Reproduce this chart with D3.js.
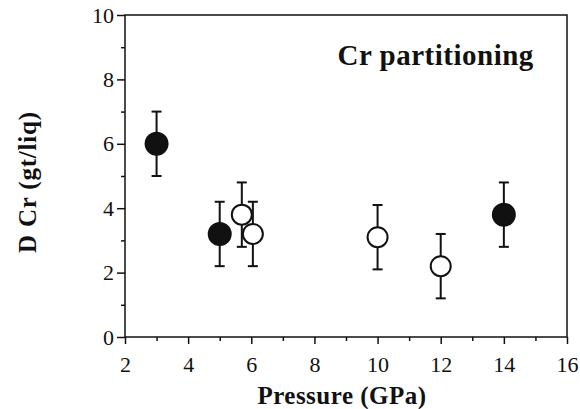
<!DOCTYPE html>
<html>
<head>
<meta charset="utf-8">
<script src="https://cdn.jsdelivr.net/npm/d3@7"></script>
<style>
  body { margin: 0; background: #fff; }
</style>
</head>
<body>
<div id="chart-area"></div>
<script>
// Cr partitioning data: pressure (GPa), D Cr, error bar half-width
const filledP = [3, 5, 14];
const filledD = [6.0, 3.2, 3.8];
const filledErr = [1.0, 1.0, 1.0];

const openP = [5.7, 6.05, 10, 12];
const openD = [3.8, 3.2, 3.1, 2.2];
const openErr = [1.0, 1.0, 1.0, 1.0];

const xTicks = [2, 4, 6, 8, 10, 12, 14, 16];
const yTicks = [0, 2, 4, 6, 8, 10];

const serif = '"Liberation Serif", "Times New Roman", monospace';

const wChart = 580, hChart = 409;
const margin = {top: 15, right: 13, bottom: 72, left: 125};
const wGraph = wChart - margin.left - margin.right;
const hGraph = hChart - margin.top - margin.bottom;

const svg = d3.select('#chart-area').append('svg')
    .attr('width', wChart)
    .attr('height', hChart);

const graph = svg.append('g')
    .attr('transform', `translate(${margin.left}, ${margin.top})`);

const xScale = d3.scaleLinear().domain([2, 16]).range([0, wGraph]);
const yScale = d3.scaleLinear().domain([0, 10]).range([hGraph, 0]);

// frame
graph.append('rect')
    .attr('width', wGraph)
    .attr('height', hGraph)
    .attr('fill', 'none')
    .attr('stroke', '#111')
    .attr('stroke-width', 1.5);

// minor ticks
const xMinor = d3.range(3, 16, 2);
const yMinor = d3.range(1, 10, 2);
graph.append('g')
    .attr('transform', `translate(0, ${hGraph})`)
    .call(d3.axisBottom(xScale).tickValues(xMinor).tickSize(4).tickFormat(''))
    .call(g => g.select('.domain').remove());
graph.append('g')
    .call(d3.axisLeft(yScale).tickValues(yMinor).tickSize(4).tickFormat(''))
    .call(g => g.select('.domain').remove());

// major axes
const xAxis = graph.append('g')
    .attr('transform', `translate(0, ${hGraph})`)
    .call(d3.axisBottom(xScale).tickValues(xTicks).tickSize(7).tickPadding(12).tickFormat(d3.format('d')));
xAxis.select('.domain').remove();

const yAxis = graph.append('g')
    .call(d3.axisLeft(yScale).tickValues(yTicks).tickSize(8).tickPadding(3).tickFormat(d3.format('d')));
yAxis.select('.domain').remove();

svg.selectAll('.tick text')
    .style('font-family', serif)
    .style('font-size', '22px')
    .attr('fill', '#111');
svg.selectAll('.tick line').attr('stroke', '#111').attr('stroke-width', 1.5);

// axis labels
svg.append('text')
    .attr('x', margin.left + wGraph / 2 - 4)
    .attr('y', 404)
    .attr('text-anchor', 'middle')
    .style('font-family', serif)
    .style('font-size', '25px')
    .style('letter-spacing', '0.5px')
    .attr('font-weight', 'bold')
    .attr('fill', '#111')
    .text('Pressure (GPa)');

svg.append('text')
    .attr('transform', `translate(36, ${margin.top + hGraph / 2 + 6}) rotate(-90)`)
    .attr('text-anchor', 'middle')
    .style('font-family', serif)
    .style('font-size', '25px')
    .style('letter-spacing', '0.8px')
    .attr('font-weight', 'bold')
    .attr('fill', '#111')
    .text('D Cr (gt/liq)');

// panel title
graph.append('text')
    .attr('x', xScale(14.95))
    .attr('y', 50)
    .attr('text-anchor', 'end')
    .style('font-family', serif)
    .style('font-size', '29px')
    .style('letter-spacing', '0.5px')
    .attr('font-weight', 'bold')
    .attr('fill', '#111')
    .text('Cr partitioning');

const open = openP.map((p, i) => ({p, d: openD[i], e: openErr[i], filled: false}));
const filled = filledP.map((p, i) => ({p, d: filledD[i], e: filledErr[i], filled: true}));
const points = open.concat(filled);

// error bars
const capW = 5;
const bars = graph.selectAll('.err').data(points).enter().append('g')
    .attr('class', 'err')
    .attr('stroke', '#111')
    .attr('stroke-width', 2);
bars.append('line')
    .attr('x1', d => xScale(d.p)).attr('x2', d => xScale(d.p))
    .attr('y1', d => yScale(d.d - d.e)).attr('y2', d => yScale(d.d + d.e));
bars.append('line')
    .attr('x1', d => xScale(d.p) - capW).attr('x2', d => xScale(d.p) + capW)
    .attr('y1', d => yScale(d.d + d.e)).attr('y2', d => yScale(d.d + d.e));
bars.append('line')
    .attr('x1', d => xScale(d.p) - capW).attr('x2', d => xScale(d.p) + capW)
    .attr('y1', d => yScale(d.d - d.e)).attr('y2', d => yScale(d.d - d.e));

// markers
graph.selectAll('.pt').data(points).enter().append('circle')
    .attr('class', 'pt')
    .attr('cx', d => xScale(d.p))
    .attr('cy', d => yScale(d.d))
    .attr('r', d => d.filled ? 11 : 10)
    .attr('fill', d => d.filled ? '#111' : '#fff')
    .attr('stroke', '#111')
    .attr('stroke-width', 2);
</script>
</body>
</html>
